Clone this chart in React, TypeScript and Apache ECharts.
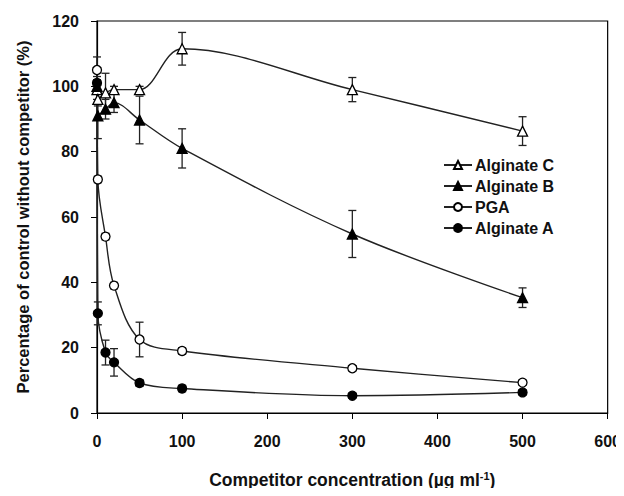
import React, { useEffect, useRef } from "react";
import * as echarts from "echarts";

const conc = [0, 1, 10, 20, 50, 100, 300, 500];
const algC = [99, 96, 98, 99, 99, 111.5, 99, 86.3];
const algCErr = [3, 2, 6, 1, 1, 5, 3.7, 4.4];
const algB = [100, 91, 93, 95, 89.7, 81, 54.8, 35.3];
const algBErr = [2, 7, 3, 3, 7.3, 6, 7.2, 3];
const pga = [105, 71.5, 54, 39, 22.5, 19, 13.7, 9.3];
const pgaErr = [4, 1, 1, 1, 5.3, 1, 0.8, 0.8];
const algA = [101, 30.5, 18.5, 15.5, 9.2, 7.5, 5.3, 6.3];
const algAErr = [2, 3.5, 3.8, 4.2, 1, 1, 0.8, 0.8];

const xTicks = [0, 100, 200, 300, 400, 500, 600];
const yTicks = [0, 20, 40, 60, 80, 100, 120];

const FONT = "'Liberation Sans', Arial, sans-serif";

function errSeries(vals: number[], errs: number[]) {
  return {
    type: "custom",
    z: 1,
    silent: true,
    data: conc.map((x, i) => [x, vals[i] - errs[i], vals[i] + errs[i]]),
    encode: { x: 0, y: [1, 2] },
    renderItem: (_p: any, api: any) => {
      const x = api.value(0);
      const lo = api.coord([x, api.value(1)]);
      const hi = api.coord([x, api.value(2)]);
      const w = 4;
      const st = { stroke: "#222", lineWidth: 1.3 };
      return {
        type: "group",
        children: [
          { type: "line", shape: { x1: lo[0], y1: lo[1], x2: hi[0], y2: hi[1] }, style: st },
          { type: "line", shape: { x1: lo[0] - w, y1: lo[1], x2: lo[0] + w, y2: lo[1] }, style: st },
          { type: "line", shape: { x1: hi[0] - w, y1: hi[1], x2: hi[0] + w, y2: hi[1] }, style: st },
        ],
      };
    },
  };
}

function lineSeries(name: string, vals: number[], symbol: string, filled: boolean, size: number) {
  return {
    name,
    type: "line",
    z: 3,
    smooth: 0.35,
    data: conc.map((x, i) => [x, vals[i]]),
    symbol,
    symbolSize: size,
    showAllSymbol: true,
    lineStyle: { color: "#222", width: 1.4 },
    itemStyle: { color: filled ? "#000" : "#fff", borderColor: "#000", borderWidth: 1.3 },
    emphasis: { disabled: true },
  };
}

export default function App() {
  const ref = useRef<HTMLDivElement>(null);
  useEffect(() => {
    if (!ref.current) return;
    const chart = echarts.init(ref.current, undefined, { renderer: "svg" });
    chart.setOption({
      animation: false,
      backgroundColor: "#fff",
      grid: {
        left: 97,
        right: 16,
        top: 21,
        bottom: 83,
        show: true,
        borderColor: "#000",
        borderWidth: 1.2,
        containLabel: false,
      },
      legend: {
        orient: "vertical",
        left: 438,
        top: 152,
        itemWidth: 28,
        itemHeight: 10,
        itemGap: 5,
        data: ["Alginate C", "Alginate B", "PGA", "Alginate A"],
        textStyle: { fontFamily: FONT, fontWeight: "bold", fontSize: 16, color: "#111", padding: [0, 0, 0, -2] },
        selectedMode: false,
      },
      xAxis: {
        type: "value",
        min: 0,
        max: 600,
        interval: 100,
        name: "Competitor concentration (µg ml{sup|-1})",
        nameLocation: "middle",
        nameGap: 57,
        nameTextStyle: {
          fontFamily: FONT,
          fontWeight: "bold",
          fontSize: 17.5,
          color: "#111",
          rich: {
            sup: { fontFamily: FONT, fontWeight: "bold", fontSize: 11, color: "#111", verticalAlign: "top", padding: [0, 0, 8, 0] },
          },
        },
        axisLine: { show: true, lineStyle: { color: "#000", width: 1.2 } },
        axisTick: { show: true, inside: false, length: 6, lineStyle: { color: "#000" } },
        axisLabel: {
          margin: 20,
          fontFamily: FONT,
          fontWeight: "bold",
          fontSize: 16,
          color: "#111",
          formatter: (v: number) => (xTicks.includes(v) ? String(v) : ""),
        },
        splitLine: { show: false },
      },
      yAxis: {
        type: "value",
        min: 0,
        max: 120,
        interval: 20,
        name: "Percentage of control without competitor (%)",
        nameLocation: "middle",
        nameGap: 66,
        nameTextStyle: { fontFamily: FONT, fontWeight: "bold", fontSize: 16.5, color: "#111" },
        axisLine: { show: true, lineStyle: { color: "#000", width: 1.2 } },
        axisTick: { show: true, inside: false, length: 6, lineStyle: { color: "#000" } },
        axisLabel: {
          margin: 18,
          fontFamily: FONT,
          fontWeight: "bold",
          fontSize: 16,
          color: "#111",
          formatter: (v: number) => (yTicks.includes(v) ? String(v) : ""),
        },
        splitLine: { show: false },
      },
      series: [
        errSeries(algC, algCErr),
        errSeries(algB, algBErr),
        errSeries(pga, pgaErr),
        errSeries(algA, algAErr),
        lineSeries("Alginate C", algC, "triangle", false, 10),
        lineSeries("Alginate B", algB, "triangle", true, 10),
        lineSeries("PGA", pga, "circle", false, 9),
        lineSeries("Alginate A", algA, "circle", true, 9),
      ],
    });
    return () => chart.dispose();
  }, []);
  return <div ref={ref} style={{ width: 624, height: 496, margin: -8 }} />;
}
